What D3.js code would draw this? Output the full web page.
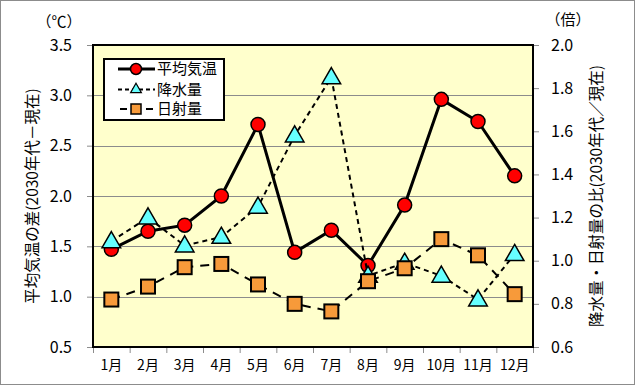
<!DOCTYPE html>
<html>
<head>
<meta charset="utf-8">
<script src="https://cdn.jsdelivr.net/npm/d3@7"></script>
<style>
  body { margin: 0; background: #fff; }
  svg text { font-family: "Noto Sans CJK JP", sans-serif; }
</style>
</head>
<body>
<svg id="chart" width="635" height="385"></svg>
<script>
// values
var months = ["1月", "2月", "3月", "4月", "5月", "6月", "7月", "8月", "9月", "10月", "11月", "12月"];
var tempDiff = [1.47, 1.65, 1.71, 2.00, 2.71, 1.44, 1.66, 1.31, 1.91, 2.96, 2.74, 2.20];
var rainRatio = [1.09, 1.20, 1.07, 1.11, 1.25, 1.58, 1.85, 0.93, 0.99, 0.93, 0.82, 1.03];
var sunRatio = [0.82, 0.88, 0.97, 0.985, 0.89, 0.80, 0.765, 0.905, 0.965, 1.10, 1.025, 0.845];
var leftTicks = [0.5, 1.0, 1.5, 2.0, 2.5, 3.0, 3.5];
var rightTicks = [0.6, 0.8, 1.0, 1.2, 1.4, 1.6, 1.8, 2.0];
var seriesNames = ["平均気温", "降水量", "日射量"];

var svg = d3.select("#chart");
var W = +svg.attr("width"), H = +svg.attr("height");
var pL = 93, pR = 533, pT = 45, pB = 347;

// outer frame
svg.append("rect").attr("x", 0.5).attr("y", 0.5).attr("width", W - 1).attr("height", H - 1)
  .attr("fill", "#fff").attr("stroke", "#8c8c8c");

var x = d3.scaleBand().domain(months).range([pL, pR]);
var xEdge = d3.scaleLinear().domain([0, 12]).range([pL, pR]);
var yL = d3.scaleLinear().domain([0.5, 3.5]).range([pB, pT]);
var yR = d3.scaleLinear().domain([0.6, 2.0]).range([pB, pT]);
var cx = function(i) { return x(months[i]) + x.bandwidth() / 2; };

// plot background
svg.append("rect").attr("x", pL).attr("y", pT).attr("width", pR - pL).attr("height", pB - pT)
  .attr("fill", "#ffffcc");

// grid lines
svg.append("g").selectAll("line").data(leftTicks.slice(1, -1)).enter().append("line")
  .attr("x1", pL).attr("x2", pR)
  .attr("y1", function(d) { return Math.round(yL(d)) + 0.5; })
  .attr("y2", function(d) { return Math.round(yL(d)) + 0.5; })
  .attr("stroke", "#8c8c8c").attr("stroke-width", 1);

// axes
var styleAxis = function(g, size) {
  g.select(".domain").remove();
  g.selectAll(".tick line").attr("stroke", "#8c8c8c");
  g.selectAll(".tick text").attr("fill", "#000").style("font-size", size + "px");
};

svg.append("g").attr("transform", "translate(" + pL + ",0)")
  .call(d3.axisLeft(yL).tickValues(leftTicks).tickFormat(d3.format(".1f")).tickSize(6).tickPadding(15))
  .call(styleAxis, 16);

svg.append("g").attr("transform", "translate(" + pR + ",0)")
  .call(d3.axisRight(yR).tickValues(rightTicks).tickFormat(d3.format(".1f")).tickSize(6).tickPadding(12))
  .call(styleAxis, 16);

svg.append("g").attr("transform", "translate(0," + pB + ")")
  .call(d3.axisBottom(xEdge).tickValues(d3.range(13)).tickFormat("").tickSize(6))
  .call(styleAxis, 13);

svg.append("g").attr("transform", "translate(0," + pB + ")")
  .call(d3.axisBottom(x).tickSize(0).tickPadding(13))
  .call(styleAxis, 14);

// plot border
svg.append("rect").attr("x", pL).attr("y", pT).attr("width", pR - pL).attr("height", pB - pT)
  .attr("fill", "none").attr("stroke", "#000").attr("stroke-width", 2);

// series
var lineL = d3.line().x(function(d, i) { return cx(i); }).y(function(d) { return yL(d); });
var lineR = d3.line().x(function(d, i) { return cx(i); }).y(function(d) { return yR(d); });
var tri = d3.symbol().type(d3.symbolTriangle).size(150);

svg.append("path").datum(tempDiff).attr("d", lineL)
  .attr("fill", "none").attr("stroke", "#000").attr("stroke-width", 3);
svg.append("g").selectAll("circle").data(tempDiff).enter().append("circle")
  .attr("cx", function(d, i) { return cx(i); }).attr("cy", function(d) { return yL(d); })
  .attr("r", 7).attr("fill", "#ff0000").attr("stroke", "#000").attr("stroke-width", 1.5);

svg.append("path").datum(rainRatio).attr("d", lineR)
  .attr("fill", "none").attr("stroke", "#000").attr("stroke-width", 2).attr("stroke-dasharray", "5,4");
svg.append("g").selectAll("path").data(rainRatio).enter().append("path")
  .attr("d", tri)
  .attr("transform", function(d, i) { return "translate(" + cx(i) + "," + (yR(d) + 1) + ")"; })
  .attr("fill", "#66ffff").attr("stroke", "#000").attr("stroke-width", 1.5);

svg.append("path").datum(sunRatio).attr("d", lineR)
  .attr("fill", "none").attr("stroke", "#000").attr("stroke-width", 2).attr("stroke-dasharray", "9,7");
svg.append("g").selectAll("rect").data(sunRatio).enter().append("rect")
  .attr("x", function(d, i) { return cx(i) - 7; }).attr("y", function(d) { return yR(d) - 7; })
  .attr("width", 14).attr("height", 14)
  .attr("fill", "#f79a3a").attr("stroke", "#000").attr("stroke-width", 2);

// legend
var lg = svg.append("g");
lg.append("rect").attr("x", 104).attr("y", 59).attr("width", 120).attr("height", 61)
  .attr("fill", "#fff").attr("stroke", "#000").attr("stroke-width", 2);
var rowY = [69, 89.5, 109];
lg.append("line").attr("x1", 118).attr("x2", 155).attr("y1", rowY[0]).attr("y2", rowY[0])
  .attr("stroke", "#000").attr("stroke-width", 3);
lg.append("circle").attr("cx", 136).attr("cy", rowY[0]).attr("r", 5.5)
  .attr("fill", "#ff0000").attr("stroke", "#000").attr("stroke-width", 1.5);
lg.append("line").attr("x1", 118).attr("x2", 155).attr("y1", rowY[1]).attr("y2", rowY[1])
  .attr("stroke", "#000").attr("stroke-width", 2).attr("stroke-dasharray", "4,3");
lg.append("path").attr("d", d3.symbol().type(d3.symbolTriangle).size(50))
  .attr("transform", "translate(136," + rowY[1] + ")")
  .attr("fill", "#66ffff").attr("stroke", "#000").attr("stroke-width", 1.2);
lg.append("line").attr("x1", 120).attr("x2", 153).attr("y1", rowY[2]).attr("y2", rowY[2])
  .attr("stroke", "#000").attr("stroke-width", 2).attr("stroke-dasharray", "7,19");
lg.append("rect").attr("x", 131).attr("y", rowY[2] - 5).attr("width", 10).attr("height", 10)
  .attr("fill", "#f79a3a").attr("stroke", "#000").attr("stroke-width", 1.5);
lg.selectAll("text").data(seriesNames).enter().append("text")
  .attr("x", 157).attr("y", function(d, i) { return rowY[i]; })
  .attr("dy", "0.35em").style("font-size", "15px").text(function(d) { return d; });

// units and axis titles
svg.append("text").attr("x", 59).attr("y", 22).attr("text-anchor", "middle").attr("dy", "0.35em")
  .style("font-size", "15px").text("（℃）");
svg.append("text").attr("x", 568).attr("y", 20).attr("text-anchor", "middle").attr("dy", "0.35em")
  .style("font-size", "15px").text("（倍）");
svg.append("text").attr("transform", "translate(33,196) rotate(-90)").attr("text-anchor", "middle")
  .attr("dy", "0.35em").style("font-size", "15.5px").text("平均気温の差(2030年代－現在)");
svg.append("text").attr("transform", "translate(597,196) rotate(-90)").attr("text-anchor", "middle")
  .attr("dy", "0.35em").style("font-size", "15.5px").text("降水量・日射量の比(2030年代／現在)");
</script>
</body>
</html>
